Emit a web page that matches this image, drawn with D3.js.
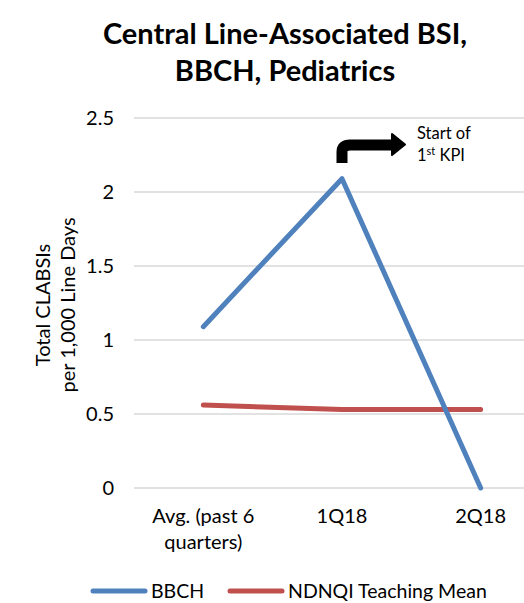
<!DOCTYPE html>
<html>
<head>
<meta charset="utf-8">
<script src="https://cdn.jsdelivr.net/npm/d3@7"></script>
<style>
  body { margin: 0; background: #fff; }
  svg { font-family: Lato, "Open Sans", sans-serif; }
</style>
</head>
<body>
<div id="chart"></div>
<script>
// Data
const categories = ["Avg. (past 6 quarters)", "1Q18", "2Q18"];
const bbch = [1.09, 2.09, 0];
const ndnqi = [0.56, 0.53, 0.53];
const yTicks = [0, 0.5, 1, 1.5, 2, 2.5];
const seriesNames = ["BBCH", "NDNQI Teaching Mean"];
const seriesColors = ["#4f81bd", "#c0504d"];

const width = 524, height = 603;
const margin = { top: 118, bottom: 115, left: 134 };

const svg = d3.select("#chart").append("svg")
    .attr("width", width)
    .attr("height", height);

const x = d3.scaleBand()
    .domain(categories)
    .range([margin.left, 550]);

const y = d3.scaleLinear()
    .domain([0, 2.5])
    .range([height - margin.bottom, margin.top]);

// Gridlines
svg.append("g")
    .selectAll("line")
    .data(yTicks)
    .enter().append("line")
    .attr("x1", margin.left)
    .attr("x2", width)
    .attr("y1", d => y(d))
    .attr("y2", d => y(d))
    .attr("stroke", "#d9d9d9")
    .attr("stroke-width", 1.5);

// Y axis labels
const yAxis = d3.axisLeft(y).tickValues(yTicks).tickSize(0).tickPadding(20).tickFormat(d => d);
const yg = svg.append("g")
    .attr("transform", `translate(${margin.left},0)`)
    .call(yAxis);
yg.select(".domain").remove();
yg.selectAll("text")
    .style("font-size", "20px")
    .style("font-family", "Lato, 'Open Sans', sans-serif")
    .attr("fill", "#000");

// X axis labels
const xLabelLines = { "Avg. (past 6 quarters)": ["Avg. (past 6", "quarters)"] };
categories.forEach(c => {
    const lines = xLabelLines[c] || [c];
    const t = svg.append("text")
        .attr("x", x(c) + x.bandwidth() / 2)
        .attr("y", 523)
        .attr("text-anchor", "middle")
        .style("font-size", "20px");
    lines.forEach((l, i) => {
        t.append("tspan")
            .attr("x", x(c) + x.bandwidth() / 2)
            .attr("dy", i === 0 ? 0 : 26)
            .text(l);
    });
});

// Lines
const line = d3.line()
    .x((d, i) => x(categories[i]) + x.bandwidth() / 2)
    .y(d => y(d));

[ndnqi, bbch].forEach((s, i) => {
    svg.append("path")
        .datum(s)
        .attr("d", line)
        .attr("fill", "none")
        .attr("stroke", seriesColors[1 - i])
        .attr("stroke-width", 5)
        .attr("stroke-linecap", "round")
        .attr("stroke-linejoin", "round");
});

// Annotation arrow above 1Q18
const ax = x("1Q18") + x.bandwidth() / 2;
svg.append("path")
    .attr("d", `M${ax},163 L${ax},152 Q${ax},145 ${ax + 8},145 L${ax + 52},145`)
    .attr("fill", "none")
    .attr("stroke", "#000")
    .attr("stroke-width", 11);
svg.append("path")
    .attr("d", `M${ax + 50},134 L${ax + 63},144.5 L${ax + 50},155 Z`)
    .attr("fill", "#000")
    .attr("stroke", "#000")
    .attr("stroke-width", 2)
    .attr("stroke-linejoin", "round");

svg.append("text")
    .attr("x", ax + 75)
    .attr("y", 139)
    .style("font-size", "16.5px")
    .text("Start of");
const l2 = svg.append("text")
    .attr("x", ax + 75)
    .attr("y", 161)
    .style("font-size", "16.5px");
l2.append("tspan").text("1");
l2.append("tspan").attr("dy", -6).style("font-size", "11px").text("st");
l2.append("tspan").attr("dy", 6).text(" KPI");

// Title
const title = svg.append("text")
    .attr("text-anchor", "middle")
    .style("font-size", "29px")
    .style("font-weight", "bold");
title.append("tspan").attr("x", 285).attr("y", 44).text("Central Line-Associated BSI,");
title.append("tspan").attr("x", 285).attr("y", 81).text("BBCH, Pediatrics");

// Y axis title
const yt = svg.append("text")
    .attr("transform", `translate(50,305) rotate(-90)`)
    .attr("text-anchor", "middle")
    .style("font-size", "20px");
yt.append("tspan").attr("x", 0).attr("y", 0).text("Total CLABSIs");
yt.append("tspan").attr("x", 0).attr("y", 25).text("per 1,000 Line Days");

// Legend
const legend = svg.append("g").attr("transform", "translate(0,591)");
const legendX = [93, 230];
seriesNames.forEach((n, i) => {
    legend.append("line")
        .attr("x1", legendX[i]).attr("x2", legendX[i] + 52)
        .attr("y1", 0).attr("y2", 0)
        .attr("stroke", seriesColors[i])
        .attr("stroke-width", 5)
        .attr("stroke-linecap", "round");
    legend.append("text")
        .attr("x", legendX[i] + 58)
        .attr("y", 7)
        .style("font-size", "19.5px")
        .text(n);
});
</script>
</body>
</html>
